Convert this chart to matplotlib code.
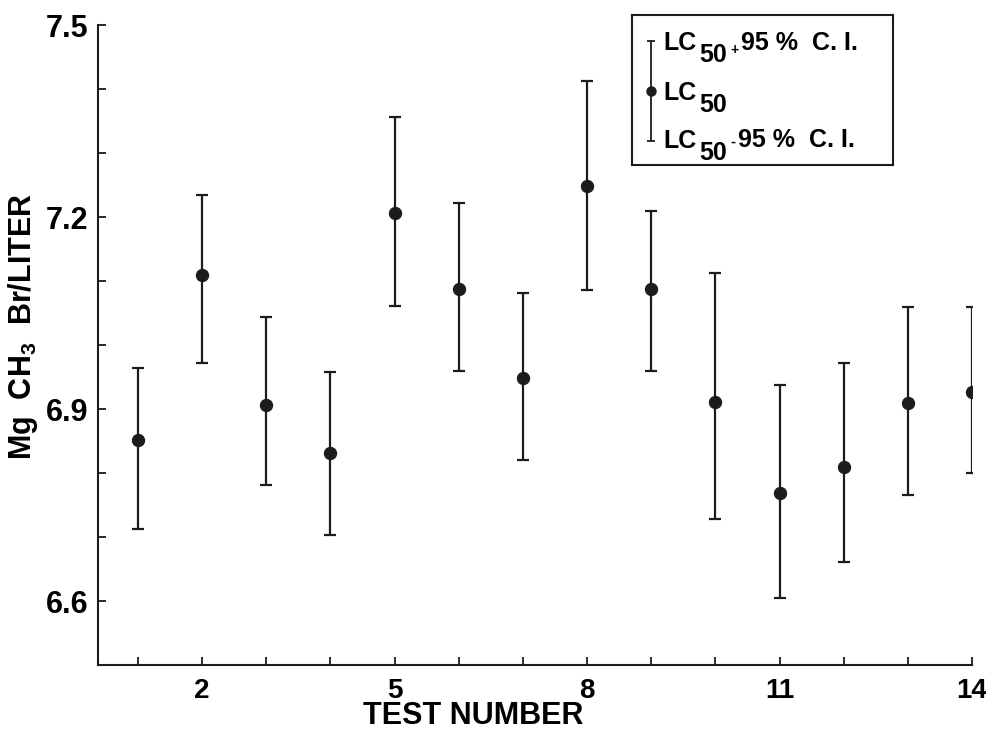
import numpy as np
import matplotlib
matplotlib.use('Agg')
import matplotlib.pyplot as plt

plt.rcParams['font.family'] = ['Liberation Sans', 'DejaVu Sans']
plt.rcParams['font.weight'] = 'bold'
plt.rcParams['mathtext.fontset'] = 'custom'
plt.rcParams['mathtext.rm'] = 'Liberation Sans:bold'
plt.rcParams['mathtext.default'] = 'rm'

# data
test_no = np.arange(1, 15)
lc50 = np.array([6.852, 7.109, 6.906, 6.831, 7.206, 7.088, 6.948,
                 7.248, 7.087, 6.911, 6.769, 6.809, 6.909, 6.927])
upper_ci = np.array([6.964, 7.234, 7.044, 6.958, 7.356, 7.222, 7.081,
                     7.413, 7.209, 7.112, 6.937, 6.972, 7.060, 7.060])
lower_ci = np.array([6.712, 6.972, 6.781, 6.703, 7.061, 6.959, 6.820,
                     7.086, 6.959, 6.728, 6.605, 6.661, 6.766, 6.800])
x_labeled = [2, 5, 8, 11, 14]
y_labeled = [6.6, 6.9, 7.2, 7.5]

ink = '#1c1c1c'

fig = plt.figure(figsize=(9.86, 7.38), dpi=100)
ax = fig.add_axes([0.0994, 0.0989, 0.8864, 0.8672])

ax.errorbar(test_no, lc50, yerr=[lc50 - lower_ci, upper_ci - lc50], fmt='o',
            color=ink, ms=8.6, elinewidth=1.6, capsize=4.3, capthick=1.6)

ax.set_xlim(0.376, 14)
ax.set_ylim(6.5, 7.5)
for s in ['top', 'right']:
    ax.spines[s].set_visible(False)
for s in ['left', 'bottom']:
    ax.spines[s].set_linewidth(1.5)
    ax.spines[s].set_color(ink)

ax.set_xticks(test_no)
ax.set_xticklabels([str(n) if n in x_labeled else '' for n in test_no])
yt = np.round(np.arange(6.5, 7.51, 0.1), 1)
ax.set_yticks(yt)
ax.set_yticklabels(['%.1f' % v if v in y_labeled else '' for v in yt])
ax.tick_params(axis='both', direction='in', length=6, width=1.3, color=ink)
ax.tick_params(axis='x', labelsize=20, pad=9)
ax.tick_params(axis='y', labelsize=22, pad=7)

fig.text(0.0233, 0.558, 'Mg  CH$_3$  Br/LITER', rotation=90, ha='center', va='center',
         fontsize=22, fontweight='bold')
fig.text(0.48, 0.0298, 'TEST NUMBER', ha='center', va='center', fontsize=22,
         fontweight='bold')

# legend box drawn by hand
lax = fig.add_axes([0.641, 0.7764, 0.2647, 0.2033])
lax.set_xlim(0, 1)
lax.set_ylim(0, 1)
lax.set_xticks([])
lax.set_yticks([])
for s in lax.spines.values():
    s.set_linewidth(1.5)
    s.set_color(ink)
lax.errorbar([0.073], [0.493], yerr=[[0.333], [0.333]], fmt='o', color=ink,
             ms=6.5, elinewidth=1.3, capsize=3, capthick=1.3)


def chain(ax, x, y, pieces):
    # pieces: (text, size, baseline shift in points, gap in points)
    s0, size0 = pieces[0]
    prev = ax.text(x, y, s0, fontsize=size0, va='baseline', transform=ax.transAxes,
                   fontweight='bold')
    prev_size, prev_dy = size0, 0
    for s, size, dy, gap in pieces[1:]:
        off = 0.21 * prev_size + dy - prev_dy
        prev = ax.annotate(s, xy=(1, 0), xycoords=prev, xytext=(gap, off),
                           textcoords='offset points', fontsize=size,
                           va='baseline', fontweight='bold')
        prev_size, prev_dy = size, dy


ci_text = '95 %  C. I.'
chain(lax, 0.119, 0.767, [('LC', 18), ('50', 18, -8.6, 2), ('+', 10, -3, 2.5),
                          (ci_text, 18, 0, 1.5)])
chain(lax, 0.119, 0.433, [('LC', 18), ('50', 18, -8.6, 2)])
chain(lax, 0.119, 0.113, [('LC', 18), ('50', 18, -8.6, 2), ('-', 11, 1.5, 2.5),
                          (ci_text, 18, 0, 1.5)])

fig.savefig('out.png', dpi=100)
